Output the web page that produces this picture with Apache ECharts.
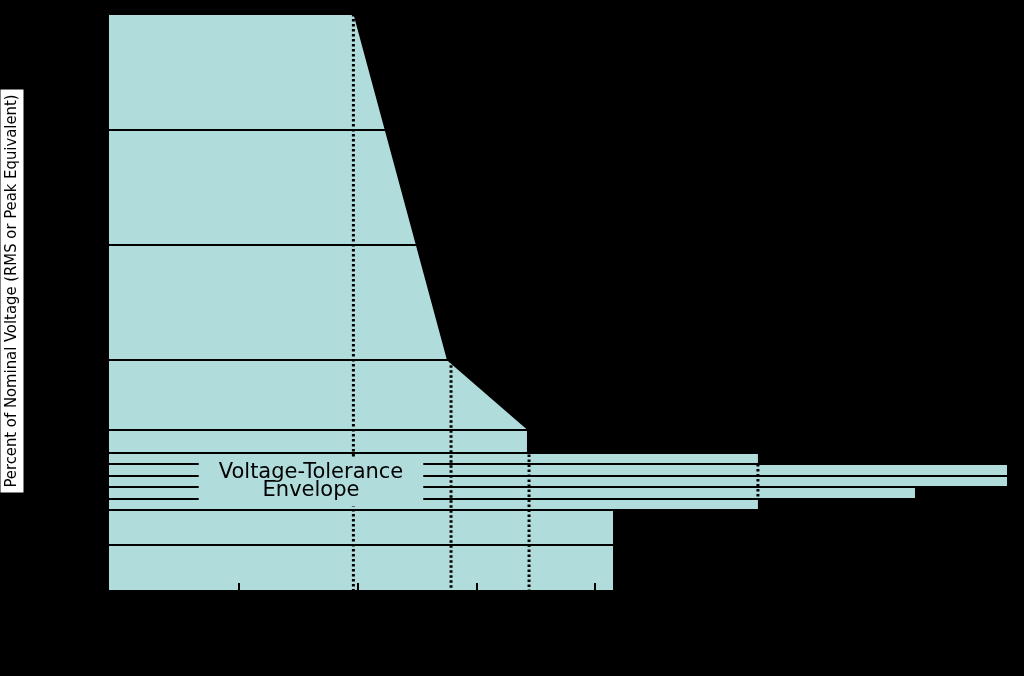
<!DOCTYPE html>
<html><head><meta charset="utf-8">
<script src="https://cdn.jsdelivr.net/npm/echarts@6/dist/echarts.min.js"></script>
<style>html,body{margin:0;padding:0;background:#000}#c{width:1024px;height:676px}</style>
</head><body><div id="c"></div>
<script>
// ---- data (durations in cycles, voltages in % of nominal) ----
const yTicks = [0, 40, 70, 80, 90, 100, 110, 120, 140, 200, 300, 400, 500];
const cycleTicks = [0.001, 0.01, 0.1, 1, 10, 100, 1000];
const cycleTickLabels = ['0.001 c', '0.01 c', '0.1 c', '1 c', '10 c', '100 c', '1000 c'];
const timeLabelPos = [7.9e-5, 0.0612, 0.278, 1.418, 23.6, 497, 2000];
const timeLabels = ['1 µs', '1 ms', '3 ms', '20 ms', '0.5 s', '10 s', 'Steady\nState'];
const xMin = 7.87e-5, xMax = 2963;
const upperX = [7.87e-5, 0.0092, 0.0566, 0.267, 0.267, 23.6, 23.6, 2963];
const upperY = [500, 500, 200, 140, 120, 120, 110, 110];
const lowerX = [7.87e-5, 1.418, 1.418, 23.6, 23.6, 497, 497, 2963];
const lowerY = [0, 0, 70, 70, 80, 80, 90, 90];
const dottedX = [0.0092, 0.0612, 0.278, 23.6];
const dottedTop = [500, 200, 140, 110];
const dottedBottom = [0, 0, 0, 80];
const envelopeLabel = 'Voltage-Tolerance\nEnvelope';
const noteText = 'Applicable to 120 V nominal voltages obtained from\n120 V, 208Y/120 V, and 120/240 V 60 Hz systems';
const yTitle = 'Percent of Nominal Voltage (RMS or Peak Equivalent)';
const xTitle = 'Duration of Disturbance in Cycles (c) and Seconds (s)';

const FILL = '#b0dcdb';
function zip(a, b) { return a.map((v, i) => [v, b[i]]); }
function lookup(vals, labels, v) {
  for (let i = 0; i < vals.length; i++) {
    if (Math.abs(Math.log10(v) - Math.log10(vals[i])) < 0.01) return labels[i];
  }
  return '';
}

const series = [
  { type: 'line', data: zip(upperX, upperY), showSymbol: false, silent: true,
    lineStyle: { width: 0 }, areaStyle: { color: FILL, opacity: 1 }, z: 2 },
  { type: 'line', data: zip(lowerX, lowerY), showSymbol: false, silent: true,
    lineStyle: { width: 0 }, areaStyle: { color: '#000', opacity: 1 }, z: 2 }
];
dottedX.forEach((x, i) => {
  series.push({ type: 'line', data: [[x, dottedTop[i]], [x, dottedBottom[i]]],
    showSymbol: false, silent: true, z: 6,
    lineStyle: { color: '#000', width: 3, type: [2.5, 2.5] } });
});

const chart = echarts.init(document.getElementById('c'));
chart.setOption({
  backgroundColor: '#000',
  animation: false,
  grid: { left: 108, right: 17, top: 14, bottom: 85 },
  xAxis: [
    { type: 'log', min: xMin, max: xMax, z: 5,
      axisLine: { lineStyle: { color: '#000', width: 2 } },
      axisTick: { inside: true, length: 8, customValues: cycleTicks, lineStyle: { color: '#000', width: 2 } },
      axisLabel: { customValues: cycleTicks, color: '#000', fontSize: 13, margin: 6,
        fontFamily: 'Liberation Sans',
        formatter: v => lookup(cycleTicks, cycleTickLabels, v) },
      splitLine: { show: false },
      name: xTitle, nameLocation: 'middle', nameGap: 60,
      nameTextStyle: { color: '#000', fontSize: 17, fontFamily: 'Liberation Sans' } },
    { type: 'log', min: xMin, max: xMax, position: 'bottom', offset: 25,
      axisLine: { show: false }, axisTick: { show: false }, splitLine: { show: false },
      axisLabel: { customValues: timeLabelPos, color: '#000', fontSize: 13, margin: 6,
        fontFamily: 'Liberation Sans',
        formatter: v => lookup(timeLabelPos, timeLabels, v) } }
  ],
  yAxis: {
    type: 'value', min: 0, max: 500, z: 5,
    axisLine: { show: true, lineStyle: { color: '#000', width: 2 } },
    axisTick: { show: false, customValues: yTicks },
    axisLabel: { customValues: yTicks, color: '#000', fontSize: 13, margin: 20, fontFamily: 'Liberation Sans' },
    splitLine: { show: true, lineStyle: { color: '#000', width: 2 } }
  },
  series: series,
  graphic: [
    { type: 'text', x: 311, y: 482, z: 100,
      style: { text: envelopeLabel, font: '21px "DejaVu Sans"', fill: '#000',
        align: 'center', verticalAlign: 'middle', lineHeight: 18,
        backgroundColor: FILL, padding: [6, 20] } },
    { type: 'text', x: 12, y: 291, rotation: Math.PI / 2, z: 100,
      style: { text: yTitle, font: '16.5px "DejaVu Sans Condensed", "DejaVu Sans", sans-serif',
        fill: '#000', align: 'center', verticalAlign: 'middle',
        backgroundColor: '#fff', padding: [3, 5] } },
    { type: 'text', x: 570, y: 297, z: 100,
      style: { text: noteText, font: '14px "Liberation Sans"', fill: '#000',
        align: 'left', verticalAlign: 'middle', lineHeight: 16 } }
  ]
});
</script>
</body></html>
